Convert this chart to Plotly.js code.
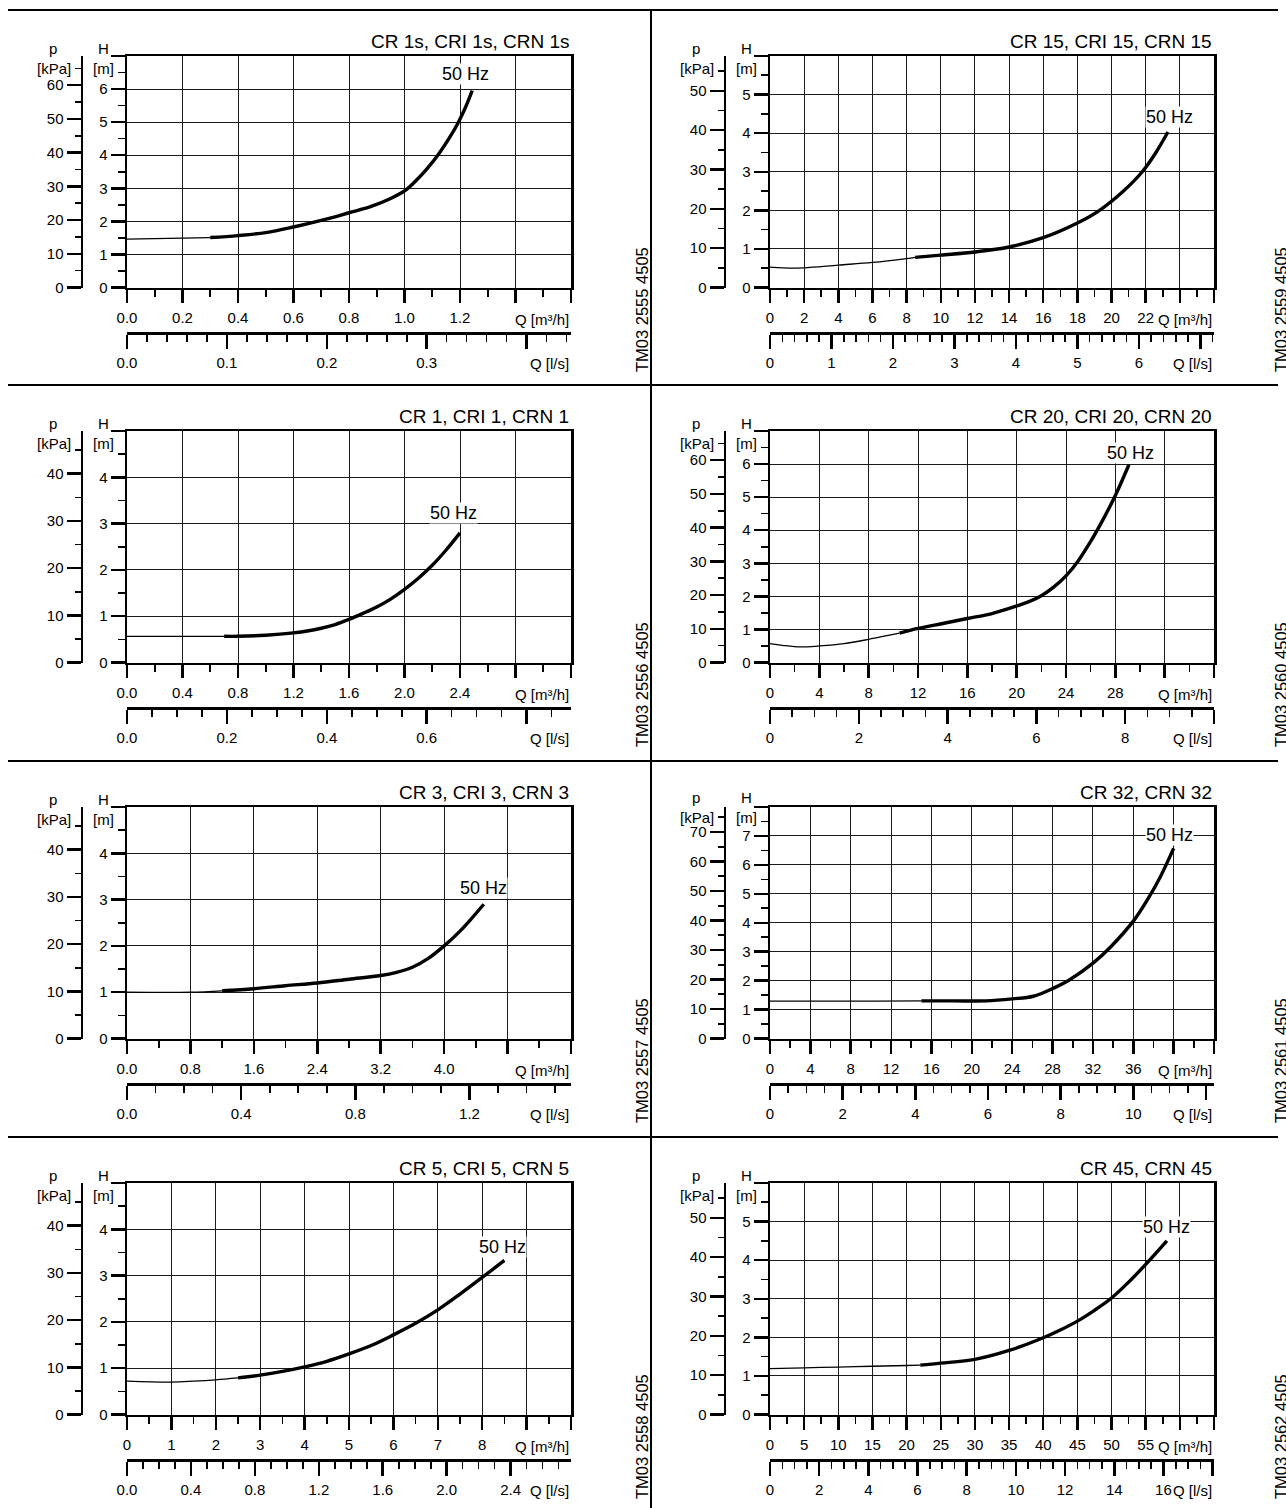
<!DOCTYPE html>
<html><head><meta charset="utf-8">
<script src="https://cdn.plot.ly/plotly-3.0.1.min.js"></script>
<style>
html,body{margin:0;padding:0;background:#fff;overflow:hidden;width:1286px;height:1508px;}
#wrap{position:relative;width:1286px;height:1508px;overflow:hidden;background:#fff;}
.panel{position:absolute;width:660px;height:376px;}
.hr{position:absolute;height:2.5px;background:#000;}
.vr{position:absolute;width:2.5px;background:#000;}
</style></head><body><div id="wrap"></div>
<script>
// ---------------- DATA ----------------
const panelTitles = ['CR 1s, CRI 1s, CRN 1s','CR 15, CRI 15, CRN 15','CR 1, CRI 1, CRN 1','CR 20, CRI 20, CRN 20','CR 3, CRI 3, CRN 3','CR 32, CRN 32','CR 5, CRI 5, CRN 5','CR 45, CRN 45'];
const drawingCodes = ['TM03 2555 4505','TM03 2559 4505','TM03 2556 4505','TM03 2560 4505','TM03 2557 4505','TM03 2561 4505','TM03 2558 4505','TM03 2562 4505'];
const curveLabel = '50 Hz';

// CR 1s
const cr1s_q = [0, 0.2, 0.3, 0.4, 0.5, 0.6, 0.7, 0.8, 0.88, 0.95, 1.0, 1.04, 1.08, 1.12, 1.16, 1.19, 1.22, 1.244];
const cr1s_h = [1.46, 1.49, 1.51, 1.57, 1.66, 1.83, 2.03, 2.26, 2.45, 2.69, 2.92, 3.22, 3.58, 4.0, 4.5, 4.93, 5.45, 5.95];
const cr1s_thickFrom = 0.3;
const cr1s_qTicks = [0,0.2,0.4,0.6,0.8,1.0,1.2,1.4,1.6];
const cr1s_qText = ['0.0','0.2','0.4','0.6','0.8','1.0','1.2','',''];
const cr1s_hTicks = [0,1,2,3,4,5,6,7];
const cr1s_pTicks = [0,10,20,30,40,50,60];
const cr1s_lsTicks = [0,0.1,0.2,0.3,0.4];
const cr1s_lsText = ['0.0','0.1','0.2','0.3',''];
const cr1s_label = [1.22, 6.45];

// CR 15
const cr15_q = [0, 1.3, 2, 4, 6, 8, 8.5, 10, 12, 14, 16, 18, 19.3, 20.7, 21.8, 22.6, 23.3];
const cr15_h = [0.53, 0.5, 0.51, 0.58, 0.65, 0.75, 0.78, 0.84, 0.92, 1.05, 1.29, 1.67, 2.0, 2.5, 3.0, 3.5, 4.03];
const cr15_thickFrom = 8.5;
const cr15_qTicks = [0,2,4,6,8,10,12,14,16,18,20,22,24,26];
const cr15_qText = ['0','2','4','6','8','10','12','14','16','18','20','22','',''];
const cr15_hTicks = [0,1,2,3,4,5,6];
const cr15_pTicks = [0,10,20,30,40,50];
const cr15_lsTicks = [0,1,2,3,4,5,6,7];
const cr15_lsText = ['0','1','2','3','4','5','6',''];
const cr15_label = [23.4, 4.41];

// CR 1
const cr1_q = [0, 0.7, 0.8, 1.0, 1.2, 1.3, 1.4, 1.5, 1.6, 1.7, 1.8, 1.9, 2.0, 2.1, 2.2, 2.3, 2.4];
const cr1_h = [0.566, 0.566, 0.566, 0.59, 0.64, 0.68, 0.74, 0.82, 0.93, 1.06, 1.2, 1.37, 1.58, 1.82, 2.1, 2.43, 2.8];
const cr1_thickFrom = 0.7;
const cr1_qTicks = [0,0.4,0.8,1.2,1.6,2.0,2.4,2.8,3.2];
const cr1_qText = ['0.0','0.4','0.8','1.2','1.6','2.0','2.4','',''];
const cr1_hTicks = [0,1,2,3,4,5];
const cr1_pTicks = [0,10,20,30,40];
const cr1_lsTicks = [0,0.2,0.4,0.6,0.8];
const cr1_lsText = ['0.0','0.2','0.4','0.6',''];
const cr1_label = [2.35, 3.23];

// CR 20
const cr20_q = [0, 1, 2.5, 4, 6, 8, 9.7, 10.5, 12, 14, 16, 18, 20, 21, 22, 23, 24, 25, 26, 27, 28, 29.1];
const cr20_h = [0.57, 0.52, 0.47, 0.5, 0.57, 0.7, 0.83, 0.89, 1.03, 1.18, 1.33, 1.48, 1.71, 1.84, 2.02, 2.28, 2.62, 3.08, 3.66, 4.32, 5.05, 5.98];
const cr20_thickFrom = 10.5;
const cr20_qTicks = [0,4,8,12,16,20,24,28,32,36];
const cr20_qText = ['0','4','8','12','16','20','24','28','',''];
const cr20_hTicks = [0,1,2,3,4,5,6,7];
const cr20_pTicks = [0,10,20,30,40,50,60];
const cr20_lsTicks = [0,2,4,6,8,10];
const cr20_lsText = ['0','2','4','6','8',''];
const cr20_label = [29.2, 6.35];

// CR 3
const cr3_q = [0, 0.8, 1.2, 1.6, 2.0, 2.4, 2.8, 3.2, 3.4, 3.6, 3.8, 4.0, 4.2, 4.35, 4.5];
const cr3_h = [1.0, 1.0, 1.03, 1.075, 1.14, 1.2, 1.28, 1.36, 1.43, 1.54, 1.73, 2.0, 2.32, 2.6, 2.9];
const cr3_thickFrom = 1.2;
const cr3_qTicks = [0,0.8,1.6,2.4,3.2,4.0,4.8,5.6];
const cr3_qText = ['0.0','0.8','1.6','2.4','3.2','4.0','',''];
const cr3_hTicks = [0,1,2,3,4,5];
const cr3_pTicks = [0,10,20,30,40];
const cr3_lsTicks = [0,0.4,0.8,1.2];
const cr3_lsText = ['0.0','0.4','0.8','1.2'];
const cr3_label = [4.5, 3.24];

// CR 32
const cr32_q = [0, 10.6, 15, 18.3, 21.4, 24, 26.1, 28.1, 29.7, 32.1, 33.8, 36.1, 37.5, 38.7, 40];
const cr32_h = [1.29, 1.29, 1.3, 1.3, 1.3, 1.37, 1.46, 1.74, 2.03, 2.63, 3.18, 4.1, 4.85, 5.6, 6.57];
const cr32_thickFrom = 15;
const cr32_qTicks = [0,4,8,12,16,20,24,28,32,36,40,44];
const cr32_qText = ['0','4','8','12','16','20','24','28','32','36','',''];
const cr32_hTicks = [0,1,2,3,4,5,6,7,8];
const cr32_pTicks = [0,10,20,30,40,50,60,70];
const cr32_lsTicks = [0,2,4,6,8,10,12];
const cr32_lsText = ['0','2','4','6','8','10',''];
const cr32_label = [39.6, 7.03];

// CR 5
const cr5_q = [0, 1, 1.5, 2, 2.5, 3, 3.5, 4, 4.5, 5, 5.5, 6, 6.5, 7, 7.5, 8, 8.5];
const cr5_h = [0.72, 0.70, 0.72, 0.75, 0.79, 0.85, 0.93, 1.03, 1.15, 1.31, 1.49, 1.72, 1.97, 2.26, 2.6, 2.96, 3.33];
const cr5_thickFrom = 2.5;
const cr5_qTicks = [0,1,2,3,4,5,6,7,8,9,10];
const cr5_qText = ['0','1','2','3','4','5','6','7','8','',''];
const cr5_hTicks = [0,1,2,3,4,5];
const cr5_pTicks = [0,10,20,30,40];
const cr5_lsTicks = [0,0.4,0.8,1.2,1.6,2.0,2.4];
const cr5_lsText = ['0.0','0.4','0.8','1.2','1.6','2.0','2.4'];
const cr5_label = [8.45, 3.62];

// CR 45
const cr45_q = [0, 5, 10, 15, 20, 22, 25, 30, 35, 40, 42.5, 45, 47.5, 50, 52.5, 55, 58.1];
const cr45_h = [1.19, 1.21, 1.23, 1.25, 1.27, 1.28, 1.33, 1.43, 1.66, 1.99, 2.19, 2.42, 2.7, 3.02, 3.43, 3.89, 4.5];
const cr45_thickFrom = 22;
const cr45_qTicks = [0,5,10,15,20,25,30,35,40,45,50,55,60,65];
const cr45_qText = ['0','5','10','15','20','25','30','35','40','45','50','55','',''];
const cr45_hTicks = [0,1,2,3,4,5,6];
const cr45_pTicks = [0,10,20,30,40,50];
const cr45_lsTicks = [0,2,4,6,8,10,12,14,16,18];
const cr45_lsText = ['0','2','4','6','8','10','12','14','16',''];
const cr45_label = [58.0, 4.85];

// minor tick steps: Q[m3/h], Q[l/s]
const qMinorSteps  = [0.1, 1, 0.2, 2, 0.4, 2, 0.5, 2.5];
const lsMinorSteps = [0.02, 0.2, 0.05, 0.5, 0.1, 0.5, 0.1, 0.5];

// ---------------- BUILD ----------------
const panels = [
  {q:cr1s_q,h:cr1s_h,tf:cr1s_thickFrom,qT:cr1s_qTicks,qX:cr1s_qText,hT:cr1s_hTicks,pT:cr1s_pTicks,lT:cr1s_lsTicks,lX:cr1s_lsText,lab:cr1s_label},
  {q:cr15_q,h:cr15_h,tf:cr15_thickFrom,qT:cr15_qTicks,qX:cr15_qText,hT:cr15_hTicks,pT:cr15_pTicks,lT:cr15_lsTicks,lX:cr15_lsText,lab:cr15_label},
  {q:cr1_q,h:cr1_h,tf:cr1_thickFrom,qT:cr1_qTicks,qX:cr1_qText,hT:cr1_hTicks,pT:cr1_pTicks,lT:cr1_lsTicks,lX:cr1_lsText,lab:cr1_label},
  {q:cr20_q,h:cr20_h,tf:cr20_thickFrom,qT:cr20_qTicks,qX:cr20_qText,hT:cr20_hTicks,pT:cr20_pTicks,lT:cr20_lsTicks,lX:cr20_lsText,lab:cr20_label},
  {q:cr3_q,h:cr3_h,tf:cr3_thickFrom,qT:cr3_qTicks,qX:cr3_qText,hT:cr3_hTicks,pT:cr3_pTicks,lT:cr3_lsTicks,lX:cr3_lsText,lab:cr3_label},
  {q:cr32_q,h:cr32_h,tf:cr32_thickFrom,qT:cr32_qTicks,qX:cr32_qText,hT:cr32_hTicks,pT:cr32_pTicks,lT:cr32_lsTicks,lX:cr32_lsText,lab:cr32_label},
  {q:cr5_q,h:cr5_h,tf:cr5_thickFrom,qT:cr5_qTicks,qX:cr5_qText,hT:cr5_hTicks,pT:cr5_pTicks,lT:cr5_lsTicks,lX:cr5_lsText,lab:cr5_label},
  {q:cr45_q,h:cr45_h,tf:cr45_thickFrom,qT:cr45_qTicks,qX:cr45_qText,hT:cr45_hTicks,pT:cr45_pTicks,lT:cr45_lsTicks,lX:cr45_lsText,lab:cr45_label}
];

const FONT = 'Liberation Sans, Arial, Helvetica, sans-serif';
const W = 660, HH = 376;
const colLeft = [0, 643];
const rowTop = [10, 385, 761, 1137];
const codeX = [642, 638];
const wrap = document.getElementById('wrap');

// frame rules
rowTop.forEach(function(y){
  const d = document.createElement('div'); d.className='hr';
  d.style.left='8px'; d.style.width='1270px'; d.style.top=(y-1.25)+'px';
  wrap.appendChild(d);
});
(function(){
  const d = document.createElement('div'); d.className='vr';
  d.style.left='649.5px'; d.style.top='9px'; d.style.height='1499px';
  wrap.appendChild(d);
})();

const PX = v => v / W;
const PY = v => 1 - v / HH;
const BLACK = '#000';

panels.forEach(function(P, i){
  const el = document.createElement('div');
  el.className = 'panel';
  el.style.left = colLeft[i % 2] + 'px';
  el.style.top = rowTop[Math.floor(i / 2)] + 'px';
  wrap.appendChild(el);

  const qMax = P.qT[P.qT.length - 1];
  const hMax = P.hT[P.hT.length - 1];
  const hText = P.hT.map((v, k) => k === P.hT.length - 1 ? '' : String(v));
  const tickFont = {family: FONT, size: 15, color: BLACK};
  const lift = (hMax === 8) ? 2 : 0;

  const thinX = [], thinY = [], thickX = [], thickY = [];
  P.q.forEach(function(v, k){
    if (v <= P.tf) { thinX.push(v); thinY.push(P.h[k]); }
    if (v >= P.tf) { thickX.push(v); thickY.push(P.h[k]); }
  });

  const traces = [
    {x: thinX, y: thinY, xaxis:'x', yaxis:'y', mode:'lines', line:{color:BLACK, width:1.3, shape:'spline', smoothing:1}, hoverinfo:'skip', showlegend:false},
    {x: thickX, y: thickY, xaxis:'x', yaxis:'y', mode:'lines', line:{color:BLACK, width:3.4, shape:'spline', smoothing:1}, hoverinfo:'skip', showlegend:false},
    {x: [], y: [], xaxis:'x2', yaxis:'y2', mode:'lines', hoverinfo:'skip', showlegend:false}
  ];

  const common = {ticks:'outside', tickcolor:BLACK, tickwidth:2.5, showline:true, linecolor:BLACK, linewidth:2.5, zeroline:false, fixedrange:true, tickfont:tickFont, tickmode:'array'};

  const layout = {
    width: W, height: HH,
    margin: {l:0, r:0, t:0, b:0, autoexpand:false},
    paper_bgcolor: 'rgba(0,0,0,0)', plot_bgcolor: '#fff',
    showlegend: false, hovermode: false,
    font: {family: FONT, size: 15, color: BLACK},
    xaxis: Object.assign({}, common, {
      domain: [PX(127), PX(571)], range: [0, qMax], anchor: 'y',
      tickvals: P.qT, ticktext: P.qX, ticklen: 13, mirror: true, ticklabelstandoff: 2,
      showgrid: true, gridcolor: '#1a1a1a', gridwidth: 1,
      minor: {dtick: qMinorSteps[i], tick0: 0, ticks:'outside', ticklen: 7, tickwidth: 1.6, tickcolor: BLACK, showgrid: false}
    }),
    yaxis: Object.assign({}, common, {
      domain: [PY(277.5), PY(46)], range: [0, hMax], anchor: 'x',
      tickvals: P.hT, ticktext: hText, ticklen: 14, mirror: true,
      showgrid: true, gridcolor: '#1a1a1a', gridwidth: 1,
      minor: {dtick: 0.5, tick0: 0, ticks:'outside', ticklen: 7, tickwidth: 1.6, tickcolor: BLACK, showgrid: false}
    }),
    yaxis2: Object.assign({}, common, {
      overlaying: 'y', anchor: 'free', position: PX(81.5), side: 'left',
      range: [0, hMax * 9.81], tickvals: P.pT, ticktext: P.pT.map(String), ticklen: 14,
      showgrid: false,
      minor: {dtick: 5, tick0: 0, ticks:'outside', ticklen: 6, tickwidth: 1.6, tickcolor: BLACK, showgrid: false}
    }),
    xaxis2: Object.assign({}, common, {
      overlaying: 'x', anchor: 'free', position: PY(323), side: 'bottom',
      range: [0, qMax / 3.6], tickvals: P.lT, ticktext: P.lX, ticklen: 14, ticklabelstandoff: 1,
      showgrid: false,
      minor: {dtick: lsMinorSteps[i], tick0: 0, ticks:'outside', ticklen: 7, tickwidth: 1.6, tickcolor: BLACK, showgrid: false}
    }),
    annotations: [
      {text: panelTitles[i], xref:'paper', yref:'paper', x: PX(571), y: PY(31.6), xanchor:'right', yanchor:'middle', showarrow:false, font:{family:FONT, size:19, color:BLACK}},
      {text: 'p', xref:'paper', yref:'paper', x: PX(53), y: PY(38.8 - lift), xanchor:'center', yanchor:'middle', showarrow:false, font:tickFont},
      {text: '[kPa]', xref:'paper', yref:'paper', x: PX(54), y: PY(58 - lift), xanchor:'center', yanchor:'middle', showarrow:false, font:tickFont},
      {text: 'H', xref:'paper', yref:'paper', x: PX(103), y: PY(38.8 - lift), xanchor:'center', yanchor:'middle', showarrow:false, font:tickFont},
      {text: '[m]', xref:'paper', yref:'paper', x: PX(103), y: PY(58 - lift), xanchor:'center', yanchor:'middle', showarrow:false, font:tickFont},
      {text: 'Q [m³/h]', xref:'paper', yref:'paper', x: PX(571), y: PY(309), xanchor:'right', yanchor:'middle', showarrow:false, font:tickFont},
      {text: 'Q [l/s]', xref:'paper', yref:'paper', x: PX(571), y: PY(353.5), xanchor:'right', yanchor:'middle', showarrow:false, font:tickFont},
      {text: curveLabel, xref:'x', yref:'y', x: P.lab[0], y: P.lab[1], xanchor:'center', yanchor:'middle', showarrow:false, bgcolor:'#fff', borderpad:0, font:{family:FONT, size:18, color:BLACK}},
      {text: drawingCodes[i], xref:'paper', yref:'paper', x: PX(codeX[i % 2]), y: PY(300), xanchor:'center', yanchor:'middle', textangle:-90, showarrow:false, font:{family:FONT, size:16.5, color:BLACK}}
    ]
  };

  Plotly.newPlot(el, traces, layout, {staticPlot:true, displayModeBar:false});
});
</script></body></html>
